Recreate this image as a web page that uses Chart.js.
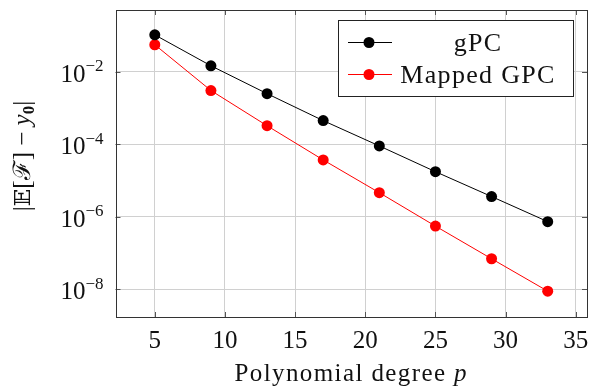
<!DOCTYPE html>
<html>
<head>
<meta charset="utf-8">
<script src="https://cdn.jsdelivr.net/npm/chart.js@4.4.1/dist/chart.umd.min.js"></script>
<style>
  html, body { margin: 0; padding: 0; background: #fff; }
  #wrap { width: 590px; height: 390px; }
</style>
</head>
<body>
<div id="wrap"><canvas id="errChart" width="590" height="390"></canvas></div>
<script>
// polynomial degrees and errors
const degrees = [5, 9, 13, 17, 21, 25, 29, 33];
const gpcErr = [1.05e-1, 1.47e-2, 2.5e-3, 4.5e-4, 9.0e-5, 1.75e-5, 3.6e-6, 7.3e-7];
const mappedErr = [5.6e-2, 3.05e-3, 3.25e-4, 3.7e-5, 4.6e-6, 5.5e-7, 6.9e-8, 8.8e-9];
const xTicks = [5, 10, 15, 20, 25, 30, 35];
const yTicks = [1e-8, 1e-6, 1e-4, 1e-2];
const yTickExp = ['\u22128', '\u22126', '\u22124', '\u22122'];

const serif = '"Liberation Serif", "DejaVu Serif", serif';

// draw a run of [text, font, dy] pieces starting at x on baseline y
function drawRun(ctx, pieces, x, y) {
    pieces.forEach(p => {
        ctx.font = p[1];
        ctx.fillText(p[0], x, y + (p[2] || 0));
        x += ctx.measureText(p[0]).width;
    });
    return x;
}
function runWidth(ctx, pieces) {
    let w = 0;
    pieces.forEach(p => { ctx.font = p[1]; w += ctx.measureText(p[0]).width; });
    return w;
}

// frame, inner tick marks, log tick labels, axis titles and the boxed legend
const framePlugin = {
    id: 'frame',
    afterDraw(chart) {
        const ctx = chart.ctx;
        const a = chart.chartArea;
        const xs = chart.scales.x, ys = chart.scales.y;
        ctx.save();
        ctx.strokeStyle = '#555';
        ctx.lineWidth = 1;
        ctx.beginPath();
        xTicks.forEach(v => {
            const px = Math.round(xs.getPixelForValue(v)) + 0.5;
            ctx.moveTo(px, a.bottom); ctx.lineTo(px, a.bottom - 5);
            ctx.moveTo(px, a.top); ctx.lineTo(px, a.top + 5);
        });
        yTicks.forEach(v => {
            const py = Math.round(ys.getPixelForValue(v)) + 0.5;
            ctx.moveTo(a.left, py); ctx.lineTo(a.left + 5, py);
            ctx.moveTo(a.right, py); ctx.lineTo(a.right - 5, py);
        });
        ctx.stroke();
        ctx.strokeStyle = '#333';
        ctx.strokeRect(Math.round(a.left) + 0.5, Math.round(a.top) + 0.5,
            Math.round(a.right - a.left) - 1, Math.round(a.bottom - a.top));

        ctx.fillStyle = '#111';
        ctx.textAlign = 'left';
        ctx.textBaseline = 'alphabetic';

        // y tick labels 10^-k
        yTicks.forEach((v, i) => {
            const py = ys.getPixelForValue(v);
            const pieces = [['10', '25px ' + serif, 0], [yTickExp[i], '17px ' + serif, -10.5]];
            const w = runWidth(ctx, pieces);
            drawRun(ctx, pieces, a.left - 12 - w, py + 10);
        });

        // x title
        ctx.letterSpacing = '1.4px';
        const xt = [['Polynomial degree ', '25px ' + serif, 0], ['p', 'italic 25px ' + serif, 0]];
        const xw = runWidth(ctx, xt);
        drawRun(ctx, xt, (a.left + a.right) / 2 - xw / 2, 381);

        // y title, rotated
        ctx.letterSpacing = '0px';
        const yt = [['|', '25px ' + serif, 0], ['\uD835\uDD3C', '23px ' + serif, 0], ['[', '25px ' + serif, 0],
            ['\u2131', '24px ' + serif, 0], ['] \u2212 ', '25px ' + serif, 0],
            ['y', 'italic 25px ' + serif, 0], ['0', 'bold 17px ' + serif, 4], ['|', '25px ' + serif, 0]];
        const yw = runWidth(ctx, yt);
        ctx.translate(30, 156);
        ctx.rotate(-Math.PI / 2);
        drawRun(ctx, yt, -yw / 2, 0);
        ctx.setTransform(1, 0, 0, 1, 0, 0);

        // legend
        const bx = 338.5, by = 20.5, bw = 235, bh = 76;
        ctx.fillStyle = '#fff';
        ctx.fillRect(bx, by, bw, bh);
        ctx.strokeStyle = '#222';
        ctx.strokeRect(bx, by, bw, bh);
        chart.data.datasets.forEach((ds, i) => {
            const y = 42 + i * 32;
            ctx.strokeStyle = ds.borderColor;
            ctx.lineWidth = 1;
            ctx.beginPath();
            ctx.moveTo(348, y + 0.5); ctx.lineTo(392, y + 0.5);
            ctx.stroke();
            ctx.fillStyle = ds.backgroundColor;
            ctx.beginPath();
            ctx.arc(369, y + 0.5, ds.pointRadius, 0, Math.PI * 2);
            ctx.fill();
            ctx.fillStyle = '#111';
            ctx.font = '26px ' + serif;
            ctx.letterSpacing = '1.3px';
            ctx.textAlign = 'center';
            ctx.textBaseline = 'alphabetic';
            ctx.fillText(ds.label, 478, y + 9);
        });
        ctx.restore();
    }
};

new Chart(document.getElementById('errChart').getContext('2d'), {
    type: 'line',
    data: {
        labels: degrees,
        datasets: [{
            label: 'gPC',
            data: degrees.map((d, i) => ({ x: d, y: gpcErr[i] })),
            borderColor: '#000',
            backgroundColor: '#000',
            borderWidth: 1,
            pointRadius: 5.5,
            pointHoverRadius: 5.5,
            pointBorderWidth: 0
        }, {
            label: 'Mapped GPC',
            data: degrees.map((d, i) => ({ x: d, y: mappedErr[i] })),
            borderColor: '#ff0000',
            backgroundColor: '#ff0000',
            borderWidth: 1,
            pointRadius: 5.5,
            pointHoverRadius: 5.5,
            pointBorderWidth: 0
        }]
    },
    options: {
        responsive: false,
        animation: false,
        layout: { autoPadding: false, padding: { top: 10, right: 3, left: 0, bottom: 0 } },
        plugins: {
            legend: { display: false },
            tooltip: { enabled: false }
        },
        scales: {
            x: {
                type: 'linear',
                min: 2.2,
                max: 35.8,
                afterBuildTicks: scale => { scale.ticks = xTicks.map(v => ({ value: v })); },
                afterFit: scale => {
                    scale.height = 73;
                    scale.paddingLeft = 0;
                    scale.paddingRight = 0;
                },
                ticks: {
                    includeBounds: false,
                    color: '#111',
                    padding: 9,
                    maxRotation: 0,
                    font: { family: serif, size: 25 }
                },
                grid: { color: '#d0d0d0', lineWidth: 1, drawTicks: false },
                border: { display: false }
            },
            y: {
                type: 'logarithmic',
                min: 1.7e-9,
                max: 0.51,
                afterBuildTicks: scale => { scale.ticks = yTicks.map(v => ({ value: v })); },
                afterFit: scale => {
                    scale.width = 115.5;
                    scale.paddingTop = 0;
                    scale.paddingBottom = 0;
                },
                ticks: { display: false },
                grid: { color: '#d0d0d0', lineWidth: 1, drawTicks: false },
                border: { display: false }
            }
        }
    },
    plugins: [framePlugin]
});
</script>
</body>
</html>
